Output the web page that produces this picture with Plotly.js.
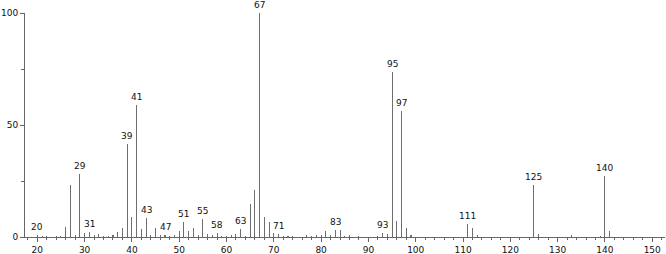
<!DOCTYPE html>
<html>
<head>
<meta charset="utf-8">
<script src="https://cdn.plot.ly/plotly-3.0.1.min.js"></script>
<style>html,body{margin:0;padding:0;background:#fff;}#chart{width:666px;height:254px;}</style>
</head>
<body>
<div id="chart"></div>
<script>
// m/z values and relative intensities (%)
const mz = [20,21,22,24,25,26,27,28,29,30,31,32,33,34,35,36,37,38,39,40,41,42,43,44,45,46,47,48,49,50,
  51,52,53,54,55,56,57,58,59,60,61,62,63,64,65,66,67,68,69,70,71,72,73,74,77,78,79,80,81,82,83,84,85,86,88,
  92,93,94,95,96,97,98,99,111,112,113,125,126,133,139,140,141];
const intensity = [1.0,0.5,0.3,0.3,0.6,4.4,23.3,0.9,28.3,2.0,2.2,0.7,1.3,0.5,0.5,0.7,2.4,3.8,41.5,9.1,59.1,3.5,8.6,0.8,3.9,1.0,1.0,0.3,1.0,2.8,
  6.5,2.8,4.1,1.0,8.1,1.5,0.7,1.9,0.3,0.5,1.0,1.5,3.6,0.5,14.9,21.1,100,8.9,6.6,1.9,1.2,0.5,0.3,0.3,0.7,0.5,0.7,0.8,2.6,1.0,3.2,3.2,0.3,1.0,0.3,
  0.5,1.8,1.5,73.5,7.3,56.4,3.8,0.8,6.0,3.8,1.0,23.3,1.5,0.7,0.5,27.4,2.5];
// peaks that carry a label
const labelledPeaks = [20,29,31,39,41,43,47,51,55,58,63,67,71,83,93,95,97,111,125,140];
const xTickVals = [20,30,40,50,60,70,80,90,100,110,120,130,140,150];
const yTickVals = [0,50,100];

const annotations = labelledPeaks.map(m => {
  const i = mz.indexOf(m);
  return {x: m, y: intensity[i], xref:'x', yref:'y', text: String(m), showarrow:false,
          yanchor:'bottom', yshift:1, font:{family:'DejaVu Sans', size:9, color:'#111'}};
});

const trace = {
  type:'bar', x: mz, y: intensity, width: 0.22,
  marker:{color:'#6e6e6e', line:{width:0}}, hoverinfo:'x+y'
};

const layout = {
  width:666, height:254,
  margin:{l:25, r:1, t:13, b:17},
  paper_bgcolor:'#fff', plot_bgcolor:'#fff',
  showlegend:false, bargap:0,
  xaxis:{range:[17.4,152.7], showgrid:false, zeroline:false, showline:true, linecolor:'#666', linewidth:1,
         ticks:'outside', ticklen:4, tickcolor:'#666', tickvals:xTickVals, ticktext:xTickVals.map(String),
         minor:{dtick:2, tick0:0, ticks:'outside', ticklen:2, tickcolor:'#666'},
         tickfont:{family:'DejaVu Sans', size:9, color:'#111'}},
  yaxis:{range:[0,100], showgrid:false, zeroline:false, showline:true, linecolor:'#666', linewidth:1,
         ticks:'outside', ticklen:4, tickcolor:'#666', tickvals:yTickVals, ticktext:yTickVals.map(String),
         minor:{dtick:25, tick0:0, ticks:'outside', ticklen:3, tickcolor:'#666'},
         tickfont:{family:'DejaVu Sans', size:9, color:'#111'}},
  annotations: annotations
};

Plotly.newPlot('chart', [trace], layout, {displayModeBar:false, staticPlot:true});
</script>
</body>
</html>
